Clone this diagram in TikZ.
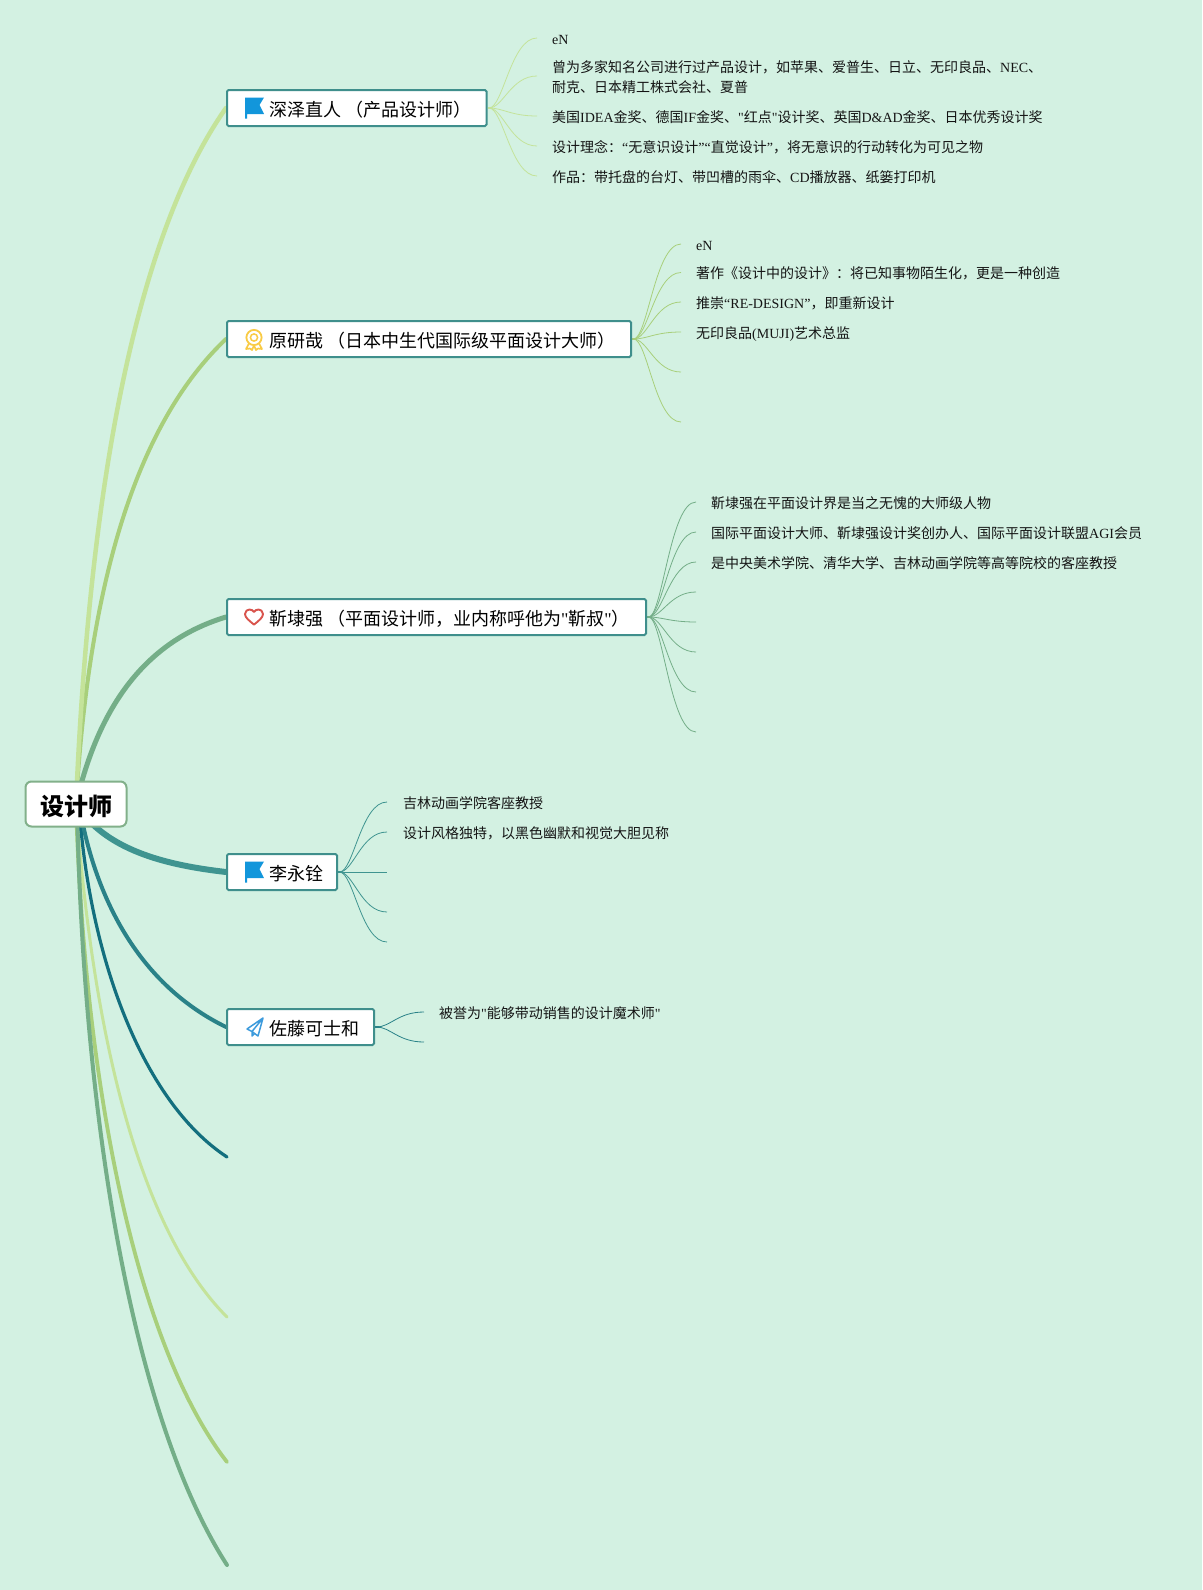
\documentclass[tikz,border=0pt]{standalone}
\usepackage{fontspec}
\setmainfont{Liberation Serif}
\newfontfamily\cjk{Noto Sans CJK SC}
\newfontfamily\plainserif{Liberation Serif}
\newcommand{\cj}[1]{{\cjk #1}}
\newcommand{\sq}{{\plainserif\symbol{34}}}
\usetikzlibrary{calc,backgrounds}
\definecolor{bgc}{HTML}{D3F1E2}
\definecolor{cLight}{HTML}{C4E39A}
\definecolor{cLime}{HTML}{A8CF7B}
\definecolor{cSage}{HTML}{74AE88}
\definecolor{cTeal}{HTML}{3F9490}
\definecolor{cDeep}{HTML}{2A8288}
\definecolor{cDark}{HTML}{136F7E}
\definecolor{cBorder}{HTML}{3F8F8C}
\definecolor{cRootB}{HTML}{82B08A}
\definecolor{cBlue}{HTML}{1296DB}
\definecolor{cGold}{HTML}{F9CB45}
\definecolor{cRed}{HTML}{D9544D}
\definecolor{cPlane}{HTML}{3D9BDC}
\tikzset{
  rootbox/.style={draw=cRootB,line width=2pt,fill=white,rounded corners=6pt,minimum width=101pt,minimum height=45pt,inner sep=0pt,text height=22pt,text depth=0pt,font=\fontsize{24}{28}\selectfont\cjk\bfseries,text=black},
  branch/.style={draw=cBorder,line width=2pt,fill=white,rounded corners=1.5pt,minimum height=36pt,inner xsep=0pt,inner ysep=0pt,text height=16pt,text depth=0pt,font=\fontsize{18}{22}\selectfont,text=black},
  leaftext/.style={anchor=base west,inner sep=0pt,font=\fontsize{14}{20}\selectfont,text=black!92},
  main/.style={line cap=round},
  twig/.style={line width=0.8pt},
  flagicon/.pic={\fill[cBlue] (0,-11) -- (19,-11) -- (14.5,-3.5) -- (19,5.5) -- (2,5.5) -- (2,10) -- (0,10) -- cycle;},
  medalicon/.pic={
    \draw[cGold,line width=1.8pt] (0,0) circle (7.6);
    \draw[cGold,line width=1.5pt] (0,0) circle (3.6);
    \draw[cGold,line width=1.7pt,line join=round] (-5,6) -- (-8,11.5) -- (-4,11) -- (-2,12.5) -- (0,8) -- (2,12.5) -- (4,11) -- (8,11.5) -- (5,6);},
  hearticon/.pic={\draw[cRed,line width=1.9pt,line join=round] (0,7.6) .. controls (-5,3.5) and (-9,0.5) .. (-9,-3) .. controls (-9,-6) and (-6.5,-7.5) .. (-4.5,-7.5) .. controls (-2.5,-7.5) and (-1,-6.5) .. (0,-5) .. controls (1,-6.5) and (2.5,-7.5) .. (4.5,-7.5) .. controls (6.5,-7.5) and (9,-6) .. (9,-3) .. controls (9,0.5) and (5,3.5) .. (0,7.6) -- cycle;},
  planeicon/.pic={\draw[cPlane,line width=1.5pt,line join=round] (8,-9) -- (-8,2) -- (-3,4.5) -- (3,9) -- cycle (8,-9) -- (-3,4.5) -- (-3,9) -- (-0.5,6.6);}
}
\newcommand{\twigto}[3]{\draw[twig,#1] (#2) .. controls ($(#2)+(14,0)$) and ($(#3)+(-26,0)$) .. (#3);}
\begin{document}
\begin{tikzpicture}[x=1pt,y=-1pt]
\useasboundingbox (0,0) rectangle (1202,1590);
% root and branches
\node[rootbox] (root) at (76,804) {设计师};
\node[branch] (b1) at (356.75,108) {\makebox[259.5pt][l]{\hspace{42pt}\cj{深泽直人 （产品设计师）}}};
\node[branch] (b2) at (429,339) {\makebox[404pt][l]{\hspace{42pt}\cj{原研哉 （日本中生代国际级平面设计大师）}}};
\node[branch] (b3) at (436.5,617) {\makebox[419pt][l]{\hspace{42pt}\cj{靳埭强 （平面设计师，业内称呼他为}\sq\cj{靳叔}\sq\cj{）}}};
\node[branch] (b4) at (282,872) {\makebox[110pt][l]{\hspace{42pt}\cj{李永铨}}};
\node[branch] (b5) at (300.5,1027) {\makebox[147pt][l]{\hspace{42pt}\cj{佐藤可士和}}};
\pic at (245,108.5) {flagicon};
\pic at (254,337.5) {medalicon};
\pic at (254,617) {hearticon};
\pic at (255,1027) {planeicon};
\pic at (245,872.5) {flagicon};
% free ends
\coordinate (f6) at (227,1157);
\coordinate (f7) at (227,1317);
\coordinate (f8) at (227,1462);
\coordinate (f9) at (227,1565);
\coordinate (o1) at ($(b1.east)+(1.5,0)$);
\coordinate (o2) at ($(b2.east)+(1.5,0)$);
\coordinate (o3) at ($(b3.east)+(1.5,0)$);
\coordinate (o4) at ($(b4.east)+(1.5,0)$);
\coordinate (o5) at ($(b5.east)+(1.5,0)$);
% leaf texts
\node[leaftext] (t11) at (552,44) {eN};
\node[leaftext,anchor=west] (t12) at (552,78) {\begin{tabular}{@{}l@{}}\cj{曾为多家知名公司进行过产品设计，如苹果、爱普生、日立、无印良品、}NEC\cj{、}\\[0pt]\cj{耐克、日本精工株式会社、夏普}\end{tabular}};
\node[leaftext] (t13) at (552,122) {\cj{美国}IDEA\cj{金奖、德国}IF\cj{金奖、}\sq\cj{红点}\sq\cj{设计奖、英国}D\&AD\cj{金奖、日本优秀设计奖}};
\node[leaftext] (t14) at (552,152) {\cj{设计理念：}“\cj{无意识设计}”“\cj{直觉设计}”\cj{，将无意识的行动转化为可见之物}};
\node[leaftext] (t15) at (552,182) {\cj{作品：带托盘的台灯、带凹槽的雨伞、}CD\cj{播放器、纸篓打印机}};
\node[leaftext] (t21) at (696,250) {eN};
\node[leaftext] (t22) at (696,278) {\cj{著作《设计中的设计》：将已知事物陌生化，更是一种创造}};
\node[leaftext] (t23) at (696,308) {\cj{推崇}“RE-DESIGN”\cj{，即重新设计}};
\node[leaftext] (t24) at (696,338) {\cj{无印良品}(MUJI)\cj{艺术总监}};
\node[leaftext] (t31) at (711,508) {\cj{靳埭强在平面设计界是当之无愧的大师级人物}};
\node[leaftext] (t32) at (711,538) {\cj{国际平面设计大师、靳埭强设计奖创办人、国际平面设计联盟}AGI\cj{会员}};
\node[leaftext] (t33) at (711,568) {\cj{是中央美术学院、清华大学、吉林动画学院等高等院校的客座教授}};
\node[leaftext] (t41) at (403,808) {\cj{吉林动画学院客座教授}};
\node[leaftext] (t42) at (403,838) {\cj{设计风格独特，以黑色幽默和视觉大胆见称}};
\node[leaftext] (t51) at (439,1018) {\cj{被誉为}\sq\cj{能够带动销售的设计魔术师}\sq};
\begin{scope}[on background layer]
\fill[bgc] (0,0) rectangle (1202,1590);
% main connectors
\draw[main,cLight,line width=3pt] (root.center) .. controls (90,1000) and (130,1220) .. (f7);
\draw[main,cLime,line width=3.8pt] (root.center) .. controls (85,1100) and (140,1350) .. (f8);
\draw[main,cSage,line width=4pt] ($(root.center)+(1,0)$) .. controls (84,1150) and (140,1430) .. (f9);
\draw[main,cDark,line width=3.2pt] ($(root.center)+(3,0)$) .. controls (88,950) and (140,1100) .. (f6);
\draw[main,cDeep,line width=4pt] ($(root.center)+(3,0)$) .. controls (95,900) and (140,985) .. (b5.west);
\draw[main,cTeal,line width=6pt] (root.center) .. controls (105,850) and (165,865) .. (b4.west);
\draw[main,cLime,line width=4pt] (root.center) .. controls (88,600) and (130,430) .. (b2.west);
\draw[main,cLight,line width=4.5pt] (root.center) .. controls (90,470) and (140,230) .. (b1.west);
\draw[main,cSage,line width=5pt] (root.center) .. controls (100,700) and (150,640) .. (b3.west);
% twigs
\draw[cLight,line width=1.6pt] (b1.east) -- +(4,0);
\draw[cLime,line width=1.6pt] (b2.east) -- +(4,0);
\draw[cSage,line width=1.6pt] (b3.east) -- +(4,0);
\draw[cTeal,line width=1.6pt] (b4.east) -- +(4,0);
\draw[cDeep,line width=1.6pt] (b5.east) -- +(4,0);
\foreach \y in {38,76,116,146,176}{\coordinate (e) at (537,\y); \twigto{cLight}{o1}{e}}
\foreach \y in {244,272.5,302,332,372,422}{\coordinate (e) at (681,\y); \twigto{cLime}{o2}{e}}
\foreach \y in {502,532,562,592,622,652,692,732}{\coordinate (e) at (696,\y); \twigto{cSage}{o3}{e}}
\foreach \y in {802,832,872,912,942}{\coordinate (e) at (387,\y); \twigto{cTeal}{o4}{e}}
\foreach \y in {1012,1042}{\coordinate (e) at (424,\y); \twigto{cDeep}{o5}{e}}
\end{scope}
\end{tikzpicture}
\end{document}
